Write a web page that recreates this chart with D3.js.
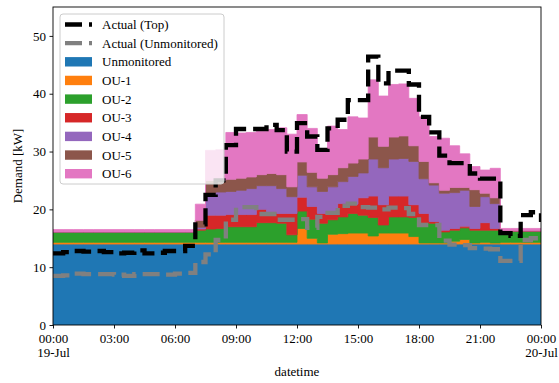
<!DOCTYPE html>
<html>
<head>
<meta charset="utf-8">
<script src="https://cdn.jsdelivr.net/npm/d3@7"></script>
<style>
  body { margin: 0; background: #fff; }
  text { font-family: "Liberation Serif", "Times New Roman", serif; }
</style>
</head>
<body>
<div id="chart"></div>
<script>
  // half-hour slots, 00:00 19-Jul .. 00:00 20-Jul (last point closes the step)
  var slotCount = 49;
  var startTime = new Date(2023, 6, 19, 0, 0);

  // stacked layers (kW per slot)
  var unmonitored = [14.0,14.0,14.0,14.0,14.0,14.0,14.0,14.0,14.0,14.0,14.0,14.0,14.0,14.0,
    14.0,14.0,14.0,14.0,14.0,14.0,14.0,14.0,14.0,14.0,14.0,14.0,14.0,14.0,14.0,14.0,14.0,14.0,
    14.0,14.0,14.0,14.0,14.0,14.0,14.0,14.0,14.0,14.0,14.0,14.0,14.0,14.0,14.0,14.0,14.0];
  var ou1 = [0.3,0.3,0.3,0.3,0.3,0.3,0.3,0.3,0.3,0.3,0.3,0.3,0.3,0.3,
    0.3,0.3,0.3,0.3,0.3,0.3,0.3,0.3,0.3,0.3,2.7,1.0,0.2,1.7,1.8,1.9,1.9,1.4,
    1.9,1.9,1.9,1.3,0.2,0.2,0.2,0.5,0.8,0.2,0.3,0.2,0.3,0.3,0.3,0.3,0.3];
  var ou2 = [1.8,1.8,1.8,1.8,1.8,1.8,1.8,1.8,1.8,1.8,1.8,1.8,1.8,1.8,
    2.1,2.3,2.4,2.7,2.7,2.7,3.4,3.4,3.3,1.3,3.0,3.3,3.4,2.5,2.9,3.4,3.1,3.2,
    1.4,2.8,2.8,3.3,3.5,3.4,1.9,1.9,2.0,2.2,2.1,2.2,1.9,1.9,1.9,1.9,1.9];
  var ou3 = [0,0,0,0,0,0,0,0,0,0,0,0,0,0,
    0.2,2.4,2.3,2.1,2.1,2.1,2.3,1.9,1.7,3.7,2.4,2.2,1.7,1.4,2.3,1.6,3.0,3.7,
    3.5,3.6,3.6,2.2,1.6,0.3,0.3,0.3,0.3,0.3,1.3,0.3,0.1,0.1,0.1,0.1,0.1];
  var ou4 = [0,0,0,0,0,0,0,0,0,0,0,0,0,0,
    0.3,3.8,4.0,4.0,4.2,4.5,4.1,4.5,4.3,2.9,3.8,3.4,3.8,4.3,3.8,4.8,4.3,6.4,
    6.4,6.4,6.5,7.5,6.0,6.3,6.4,6.2,6.2,3.8,4.5,4.3,0,0,0,0,0];
  var ou5 = [0,0,0,0,0,0,0,0,0,0,0,0,0,0,
    1.2,2.2,2.0,2.1,2.1,2.0,1.9,2.1,2.4,1.7,2.3,2.5,2.3,2.1,2.4,2.3,2.4,3.8,
    3.7,3.8,3.9,2.7,3.0,0.4,0.5,0.9,0.5,2.9,0.6,1.0,0,0,0,0,0];
  var ou6 = [0.4,0.4,0.4,0.4,0.4,0.4,0.4,0.4,0.4,0.4,0.4,0.4,0.4,0.4,
    2.8,5.2,5.3,8.1,7.8,7.7,7.5,7.6,8.1,9.1,8.2,7.6,4.6,8.4,6.6,8.0,7.1,9.9,
    8.7,9.1,9.0,8.2,7.7,8.0,9.0,7.2,5.8,4.0,4.0,5.1,0.4,0.4,0.4,0.4,0.4];

  // measured lines
  var actualTop = [12.4,12.6,12.8,12.7,12.8,12.6,12.4,12.5,12.9,12.4,12.5,12.8,12.8,13.7,
    17.4,22.5,25.0,31.1,33.9,33.9,33.9,34.6,33.7,30.0,34.9,32.6,30.3,34.0,35.5,38.9,38.9,46.4,
    41.8,44.0,44.0,41.6,36.0,33.3,29.3,28.0,28.0,26.2,25.3,25.3,15.9,15.4,19.0,19.5,17.8];
  var actualUnmon = [8.5,8.6,8.9,8.8,8.8,8.8,8.7,8.5,8.8,8.8,8.8,8.7,8.9,9.0,
    10.9,12.2,14.7,18.2,20.4,20.4,19.2,19.2,18.2,18.2,18.3,16.8,18.7,19.4,20.6,21.0,20.4,20.3,
    20.0,20.3,20.2,19.2,17.3,17.3,14.6,13.9,13.8,13.3,13.2,13.1,11.1,11.1,14.7,15.0,15.0];

  var layerNames = ['Unmonitored', 'OU-1', 'OU-2', 'OU-3', 'OU-4', 'OU-5', 'OU-6'];
  var layerValues = [unmonitored, ou1, ou2, ou3, ou4, ou5, ou6];
  var layerColors = ['#1f77b4', '#ff7f0e', '#2ca02c', '#d62728', '#9467bd', '#8c564b', '#e377c2'];
  var yTicks = [0, 10, 20, 30, 40, 50];

  var W = 559, H = 383;
  var margin = {top: 7, right: 18, bottom: 58, left: 53};
  var w = W - margin.left - margin.right,
      h = H - margin.top - margin.bottom;

  var svg = d3.select('#chart').append('svg')
    .attr('width', W).attr('height', H);

  var g = svg.append('g')
    .attr('transform', 'translate(' + margin.left + ',' + margin.top + ')');

  g.append('clipPath').attr('id', 'plotclip')
    .append('rect').attr('width', w).attr('height', h);

  // build rows for the stack
  var rows = d3.range(slotCount).map(function(i) {
    var row = {time: d3.timeMinute.offset(startTime, 30 * i)};
    layerNames.forEach(function(name, k) { row[name] = layerValues[k][i]; });
    return row;
  });

  var x = d3.scaleTime()
    .domain([startTime, d3.timeMinute.offset(startTime, 30 * (slotCount - 1))])
    .range([0, w]);
  var y = d3.scaleLinear().domain([0, 55]).range([h, 0]);

  var stacked = d3.stack().keys(layerNames)(rows);

  var area = d3.area()
    .curve(d3.curveStepAfter)
    .x(function(d) { return x(d.data.time); })
    .y0(function(d) { return y(d[0]); })
    .y1(function(d) { return y(d[1]); });

  var plot = g.append('g').attr('clip-path', 'url(#plotclip)');

  plot.selectAll('.layer')
    .data(stacked)
    .enter().append('path')
    .attr('class', 'layer')
    .attr('d', area)
    .attr('fill', function(d, i) { return layerColors[i]; })
    .attr('stroke', function(d, i) { return layerColors[i]; })
    .attr('stroke-width', 0.8);

  var line = d3.line()
    .curve(d3.curveStepAfter)
    .x(function(d, i) { return x(rows[i].time); })
    .y(function(d) { return y(d); });

  plot.append('path')
    .datum(actualUnmon)
    .attr('d', line)
    .attr('fill', 'none')
    .attr('stroke', '#808080')
    .attr('stroke-width', 4.3)
    .attr('stroke-dasharray', '17,7');

  plot.append('path')
    .datum(actualTop)
    .attr('d', line)
    .attr('fill', 'none')
    .attr('stroke', '#000')
    .attr('stroke-width', 4.3)
    .attr('stroke-dasharray', '17,7');

  // axes
  var yAxis = g.append('g')
    .call(d3.axisLeft(y).tickValues(yTicks).tickSize(3.5).tickPadding(3.5).tickSizeOuter(0));
  var xAxis = g.append('g')
    .attr('transform', 'translate(0,' + h + ')')
    .call(d3.axisBottom(x).ticks(d3.timeHour.every(3)).tickSize(3.5).tickPadding(5).tickSizeOuter(0)
      .tickFormat(d3.timeFormat('%H:%M')));

  [yAxis, xAxis].forEach(function(ax) {
    ax.select('.domain').remove();
    ax.selectAll('line').attr('stroke', '#000').attr('stroke-width', 0.9);
    ax.selectAll('text')
      .attr('fill', '#000')
      .style('font-size', '13px')
      .style('font-family', '"Liberation Serif", serif');
  });

  // add date line under the midnight ticks
  xAxis.selectAll('.tick text').each(function(d) {
    if (d.getHours() === 0) {
      d3.select(this).append('tspan')
        .attr('x', 0).attr('dy', '1.1em')
        .text(d3.timeFormat('%d-%b')(d));
    }
  });

  // frame
  g.append('rect')
    .attr('width', w).attr('height', h)
    .attr('fill', 'none')
    .attr('stroke', '#000')
    .attr('stroke-width', 0.9);

  svg.append('text')
    .attr('x', margin.left + w / 2).attr('y', 376)
    .attr('text-anchor', 'middle')
    .style('font-size', '13px')
    .text('datetime');

  svg.append('text')
    .attr('transform', 'translate(22,' + (margin.top + h / 2) + ') rotate(-90)')
    .attr('text-anchor', 'middle')
    .style('font-size', '13px')
    .text('Demand [kW]');

  // legend
  var legend = svg.append('g').attr('transform', 'translate(60,14)');
  legend.append('rect')
    .attr('width', 164).attr('height', 170)
    .attr('rx', 3)
    .attr('fill', '#fff').attr('fill-opacity', 0.8)
    .attr('stroke', '#cccccc').attr('stroke-width', 1);

  var entries = [
    {label: 'Actual (Top)', type: 'line', color: '#000'},
    {label: 'Actual (Unmonitored)', type: 'line', color: '#808080'}
  ];
  layerNames.forEach(function(name, k) {
    entries.push({label: name, type: 'patch', color: layerColors[k]});
  });

  entries.forEach(function(e, i) {
    var cy = 10.5 + i * 18.65;
    var item = legend.append('g').attr('transform', 'translate(0,' + cy + ')');
    if (e.type === 'line') {
      item.append('line')
        .attr('x1', 5).attr('x2', 32).attr('y1', 0).attr('y2', 0)
        .attr('stroke', e.color).attr('stroke-width', 4.3)
        .attr('stroke-dasharray', '17,7');
    } else {
      item.append('rect')
        .attr('x', 5).attr('y', -4.7).attr('width', 27).attr('height', 9.4)
        .attr('fill', e.color);
    }
    item.append('text')
      .attr('x', 42).attr('y', 0)
      .attr('dy', '0.35em')
      .style('font-size', '13px')
      .text(e.label);
  });
</script>
</body>
</html>
